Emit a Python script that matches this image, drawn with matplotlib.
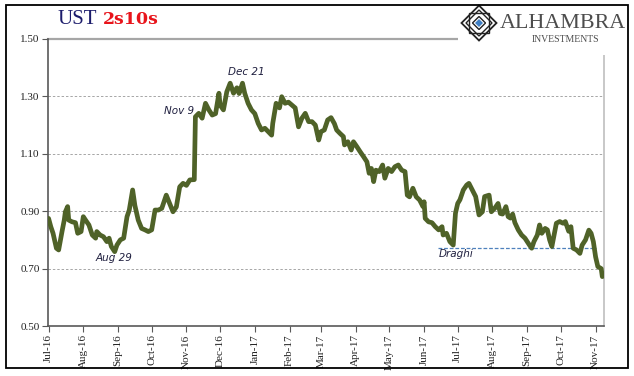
import matplotlib
matplotlib.use("Agg")
import matplotlib.pyplot as plt
import matplotlib.patches as mpatches
import pandas as pd

# ---------------- data ----------------
dates = [
 "2016-07-01","2016-07-03","2016-07-05","2016-07-08","2016-07-10","2016-07-13","2016-07-15","2016-07-16",
 "2016-07-18","2016-07-19","2016-07-22","2016-07-25","2016-07-27","2016-07-30","2016-08-01","2016-08-03",
 "2016-08-06","2016-08-09","2016-08-12","2016-08-13","2016-08-16","2016-08-19","2016-08-22","2016-08-24",
 "2016-08-26","2016-08-29","2016-08-31","2016-09-03","2016-09-06","2016-09-09","2016-09-11","2016-09-14",
 "2016-09-16","2016-09-19","2016-09-22","2016-09-25","2016-09-28","2016-10-01","2016-10-04","2016-10-07",
 "2016-10-10","2016-10-14","2016-10-17","2016-10-20","2016-10-23","2016-10-26","2016-10-29","2016-11-01",
 "2016-11-04","2016-11-08","2016-11-09","2016-11-12","2016-11-15","2016-11-18","2016-11-21","2016-11-24",
 "2016-11-27","2016-11-30","2016-12-01","2016-12-04","2016-12-07","2016-12-10","2016-12-13","2016-12-16",
 "2016-12-18","2016-12-21","2016-12-23","2016-12-26","2016-12-29","2017-01-01","2017-01-04","2017-01-07",
 "2017-01-10","2017-01-13","2017-01-16","2017-01-17","2017-01-20","2017-01-23","2017-01-25","2017-01-28",
 "2017-01-31","2017-02-03","2017-02-06","2017-02-09","2017-02-12","2017-02-15","2017-02-18","2017-02-21",
 "2017-02-24","2017-02-27","2017-03-01","2017-03-04","2017-03-07","2017-03-10","2017-03-13","2017-03-15",
 "2017-03-18","2017-03-21","2017-03-22","2017-03-25","2017-03-28","2017-03-30","2017-04-02","2017-04-05",
 "2017-04-08","2017-04-11","2017-04-13","2017-04-15","2017-04-17","2017-04-19","2017-04-22","2017-04-25",
 "2017-04-27","2017-04-30","2017-05-03","2017-05-06","2017-05-09","2017-05-12","2017-05-15","2017-05-17",
 "2017-05-19","2017-05-22","2017-05-25","2017-05-28","2017-05-31","2017-06-01","2017-06-02","2017-06-05",
 "2017-06-08","2017-06-11","2017-06-14","2017-06-17","2017-06-18","2017-06-21","2017-06-24","2017-06-27",
 "2017-06-29","2017-07-01","2017-07-03","2017-07-06","2017-07-09","2017-07-11","2017-07-14","2017-07-17",
 "2017-07-20","2017-07-23","2017-07-25","2017-07-29","2017-07-31","2017-08-03","2017-08-06","2017-08-08",
 "2017-08-10","2017-08-13","2017-08-15","2017-08-17","2017-08-19","2017-08-21","2017-08-24","2017-08-27",
 "2017-08-30","2017-09-03","2017-09-05","2017-09-07","2017-09-10","2017-09-12","2017-09-14","2017-09-17",
 "2017-09-19","2017-09-21","2017-09-23","2017-09-25","2017-09-27","2017-09-30","2017-10-03","2017-10-05",
 "2017-10-08","2017-10-10","2017-10-12","2017-10-15","2017-10-18","2017-10-20","2017-10-23","2017-10-26",
 "2017-10-28","2017-10-30","2017-11-01","2017-11-03","2017-11-06","2017-11-07",
]
spread = [
 0.875,0.846,0.823,0.771,0.765,0.829,0.869,0.898,
 0.916,0.869,0.863,0.860,0.823,0.829,0.881,0.869,
 0.852,0.817,0.806,0.829,0.817,0.811,0.794,0.806,
 0.777,0.759,0.782,0.800,0.806,0.881,0.904,0.974,
 0.920,0.869,0.840,0.835,0.829,0.835,0.904,0.904,
 0.910,0.956,0.927,0.898,0.915,0.985,0.997,0.990,
 1.009,1.010,1.229,1.241,1.224,1.276,1.253,1.235,
 1.240,1.311,1.270,1.253,1.316,1.346,1.311,1.330,
 1.310,1.346,1.311,1.276,1.253,1.240,1.206,1.183,
 1.189,1.177,1.165,1.206,1.276,1.260,1.299,1.276,
 1.280,1.270,1.260,1.194,1.224,1.241,1.212,1.212,
 1.200,1.148,1.177,1.183,1.218,1.226,1.205,1.183,
 1.171,1.160,1.131,1.142,1.113,1.142,1.125,1.107,
 1.090,1.072,1.032,1.049,1.003,1.043,1.038,1.061,
 1.015,1.049,1.038,1.055,1.061,1.043,1.038,0.956,
 0.950,0.980,0.950,0.939,0.916,0.933,0.875,0.863,
 0.860,0.846,0.835,0.846,0.817,0.823,0.794,0.782,
 0.893,0.927,0.940,0.974,0.991,0.997,0.974,0.951,
 0.887,0.898,0.951,0.956,0.898,0.910,0.927,0.892,
 0.890,0.916,0.881,0.876,0.890,0.860,0.835,0.817,
 0.806,0.782,0.771,0.794,0.817,0.852,0.823,0.840,
 0.835,0.800,0.777,0.817,0.858,0.864,0.858,0.864,
 0.830,0.846,0.771,0.765,0.753,0.782,0.800,0.834,
 0.823,0.794,0.741,0.707,0.700,0.672,
]
yticks = [0.50, 0.70, 0.90, 1.10, 1.30, 1.50]
month_ticks = pd.date_range("2016-07-01", "2017-11-01", freq="MS")
draghi_level = 0.772
draghi_span = ("2017-06-13", "2017-11-01")
annotations = [("Aug 29", "2016-08-29"), ("Nov 9", "2016-11-09"),
               ("Dec 21", "2016-12-21"), ("Draghi", "2017-06-27")]

# ---------------- figure ----------------
W, H = 634, 376
fig = plt.figure(figsize=(W / 100, H / 100), dpi=100)
fig.patch.set_facecolor("white")

def fx(px):
    return px / W

def fy(py):
    return 1 - py / H

ax = fig.add_axes([fx(48), fy(326), fx(604) - fx(48), fy(39) - fy(326)])
x = pd.to_datetime(dates)
line_color = "#4F6228"

# gridlines
for v in [0.70, 0.90, 1.10, 1.30]:
    ax.axhline(v, color="#a6a6a6", lw=0.7, ls=(0, (2.5, 2)), zorder=1)
ax.axhline(1.50, color="#a6a6a6", lw=1.6, zorder=1, clip_on=False)

# Draghi line
ax.plot(pd.to_datetime(list(draghi_span)), [draghi_level, draghi_level],
        color="#4f81bd", lw=0.9, ls=(0, (3, 1.5)), zorder=2)

ax.plot(x, spread, color=line_color, lw=3.4, solid_joinstyle="round",
        solid_capstyle="round", zorder=3)

ax.set_ylim(0.50, 1.50)
ax.set_xlim(pd.Timestamp("2016-06-30 12:00"), pd.Timestamp("2017-11-08 12:00"))
ax.set_yticks(yticks)
ax.set_yticklabels([f"{v:.2f}" for v in yticks], fontfamily="Liberation Serif",
                   fontsize=8, color="#222222")
ax.set_xticks(month_ticks)
ax.set_xticklabels([d.strftime("%b-%y") for d in month_ticks], rotation=90,
                   fontfamily="Liberation Serif", fontsize=8, color="#222222")
ax.tick_params(axis="both", direction="out", length=4, width=0.8, color="#595959", pad=2)

ax.spines["top"].set_visible(False)
ax.spines["left"].set_color("#595959")
ax.spines["bottom"].set_color("#595959")
ax.spines["left"].set_linewidth(1.2)
ax.spines["bottom"].set_linewidth(1.2)
ax.spines["right"].set_color("#bfbfbf")
ax.spines["right"].set_linewidth(1.2)

# annotations
ann_font = dict(fontfamily="DejaVu Sans", fontstyle="italic", fontsize=7.5, color="#1f1f3f")
lab = dict(annotations)
ax.text(pd.Timestamp(lab["Aug 29"]) - pd.Timedelta(days=1), 0.737, "Aug 29", ha="center", va="center", **ann_font)
ax.text(pd.Timestamp(lab["Nov 9"]) - pd.Timedelta(days=1), 1.249, "Nov 9", ha="right", va="center", **ann_font)
ax.text(pd.Timestamp(lab["Dec 21"]) + pd.Timedelta(days=3), 1.385, "Dec 21", ha="center", va="center", **ann_font)
ax.text(pd.Timestamp(lab["Draghi"]) - pd.Timedelta(days=13), 0.75, "Draghi", ha="left", va="center", **ann_font)

# title
fig.text(fx(57), fy(19), "UST", fontfamily="Liberation Serif", fontsize=15,
         color="#1c1c6b", va="center", ha="left")
fig.text(fx(103), fy(20), "2s10s", fontfamily="DejaVu Serif", fontsize=12.5,
         fontweight="bold", color="#e8141b", va="center", ha="left")

# logo box (white, hides gridline behind it)
fig.patches.append(mpatches.Rectangle((fx(458), fy(55)), fx(620) - fx(458), fy(6) - fy(55),
                                      transform=fig.transFigure, facecolor="white",
                                      edgecolor="none", zorder=5))
cx, cy, r = 479, 23, 17.5
def diamond(cxp, cyp, rp, **kw):
    pts = [(fx(cxp), fy(cyp - rp)), (fx(cxp + rp), fy(cyp)), (fx(cxp), fy(cyp + rp)), (fx(cxp - rp), fy(cyp))]
    fig.patches.append(mpatches.Polygon(pts, closed=True, transform=fig.transFigure, zorder=6, **kw))
diamond(cx, cy, r, facecolor="white", edgecolor="#222222", lw=1.3)
diamond(cx, cy, r - 4.5, facecolor="none", edgecolor="#222222", lw=1.0)
fig.patches.append(mpatches.Rectangle((fx(cx - 10), fy(cy + 10)), fx(20), 20 / H, transform=fig.transFigure,
                                      facecolor="none", edgecolor="#222222", lw=1.0, zorder=6))
diamond(cx, cy, 6.5, facecolor="white", edgecolor="#222222", lw=1.0)
diamond(cx, cy, 4, facecolor="#3f7fc4", edgecolor="none")
fig.text(fx(500), fy(23), "ALHAMBRA", fontfamily="Liberation Serif", fontsize=15.8,
         color="#4d4d4d", va="center", ha="left", zorder=7)
fig.text(fx(566), fy(40), "INVESTMENTS", fontfamily="Liberation Serif", fontsize=7,
         color="#4d4d4d", va="center", ha="center", zorder=7)

# outer border
fig.patches.append(mpatches.Rectangle((fx(6), fy(368)), fx(628) - fx(6), fy(5) - fy(368),
                                      transform=fig.transFigure, facecolor="none",
                                      edgecolor="black", lw=1.3, zorder=8))

fig.savefig("out.png", dpi=100, facecolor="white")
